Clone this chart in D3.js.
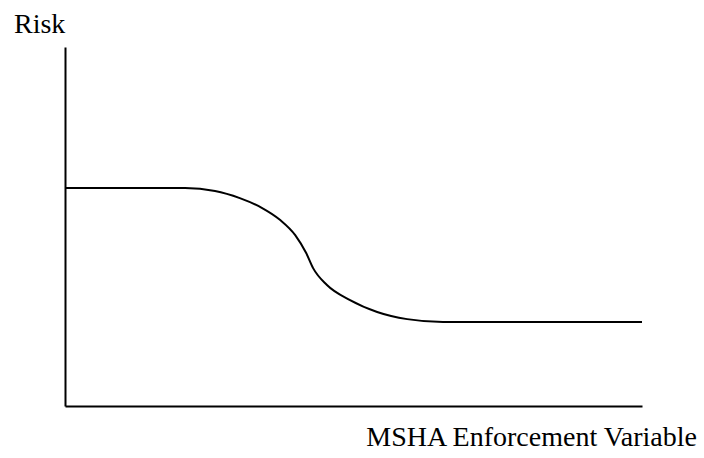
<!DOCTYPE html>
<html>
<head>
<meta charset="utf-8">
<script src="https://cdn.jsdelivr.net/npm/d3@7"></script>
<style>
  body { margin: 0; background: #fff; }
  svg text { font-family: "Liberation Serif", "Times New Roman", serif; fill: #000; }
</style>
</head>
<body>
<div id="chart"></div>
<script>
// curve, in axis units (0..100 on both axes)
var riskX = [0, 20.8, 26.0, 30.3, 34.1, 37.3, 39.9, 41.8, 43.0, 45.4, 49.4, 54.1, 59.3, 65.5, 100];
var riskY = [60.7, 60.7, 59.9, 57.9, 55.2, 51.8, 47.6, 42.6, 38.4, 33.7, 29.5, 26.2, 24.2, 23.4, 23.4];
var yLabel = "Risk";
var xLabel = "MSHA Enforcement Variable";

var width = 704, height = 458;
var margin = { top: 47, right: 62, bottom: 52, left: 65 };

var svg = d3.select("#chart").append("svg")
    .attr("width", width)
    .attr("height", height);

var x = d3.scaleLinear().domain([0, 100]).range([margin.left, width - margin.right]);
var y = d3.scaleLinear().domain([0, 100]).range([height - margin.bottom, margin.top]);

// axes without ticks
svg.append("g")
    .attr("transform", "translate(0," + y(0) + ")")
    .call(d3.axisBottom(x).ticks(0).tickSize(0).tickSizeOuter(0))
    .call(function(g) { g.select(".domain").attr("stroke", "#000").attr("stroke-width", 2); });

svg.append("g")
    .attr("transform", "translate(" + x(0) + ",0)")
    .call(d3.axisLeft(y).ticks(0).tickSize(0).tickSizeOuter(0))
    .call(function(g) { g.select(".domain").attr("stroke", "#000").attr("stroke-width", 2); });

var pts = riskX.map(function(d, i) { return [d, riskY[i]]; });
var line = d3.line()
    .x(function(d) { return x(d[0]); })
    .y(function(d) { return y(d[1]); })
    .curve(d3.curveMonotoneX);

svg.append("path")
    .datum(pts)
    .attr("fill", "none")
    .attr("stroke", "#000")
    .attr("stroke-width", 2)
    .attr("d", line);

svg.append("text")
    .attr("x", 14)
    .attr("y", 33)
    .style("font-size", "28px")
    .text(yLabel);

svg.append("text")
    .attr("x", 697)
    .attr("y", 446)
    .attr("text-anchor", "end")
    .style("font-size", "28px")
    .text(xLabel);
</script>
</body>
</html>
